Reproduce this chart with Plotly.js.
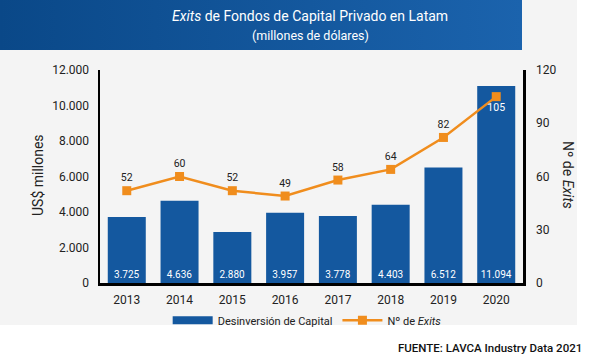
<!DOCTYPE html>
<html>
<head>
<meta charset="utf-8">
<script src="https://cdn.plot.ly/plotly-3.0.1.min.js"></script>
<style>
html,body{margin:0;padding:0;background:#fff;}
#chart{width:589px;height:358px;}
</style>
</head>
<body>
<div id="chart"></div>
<script>
const years = ['2013','2014','2015','2016','2017','2018','2019','2020'];
const desinversion = [3725, 4636, 2880, 3957, 3778, 4403, 6512, 11094];
const numExits = [52, 60, 52, 49, 58, 64, 82, 105];
const leftTicks = [0, 2000, 4000, 6000, 8000, 10000, 12000];
const rightTicks = [0, 30, 60, 90, 120];

const BLUE = '#14589f';
const ORANGE = '#f08d1d';

const bannerSvg = '<svg xmlns="http://www.w3.org/2000/svg" width="522" height="50" preserveAspectRatio="none">' +
  '<defs><linearGradient id="g" x1="0" x2="1" y1="0" y2="0">' +
  '<stop offset="0" stop-color="#0a4888"/><stop offset="1" stop-color="#1b63ad"/></linearGradient></defs>' +
  '<rect width="522" height="50" fill="url(#g)"/></svg>';
const bannerUri = 'data:image/svg+xml;base64,' + btoa(bannerSvg);

const lastIdx = numExits.length - 1;
const lineTextPos = numExits.map((v, i) => i === lastIdx ? 'bottom center' : 'top center');
const lineTextCol = numExits.map((v, i) => i === lastIdx ? '#ffffff' : '#222222');

const traces = [
  {
    type: 'bar', x: years, y: desinversion, name: 'Desinversión de Capital',
    marker: {color: BLUE}, showlegend: false, legendgroup: 'bar',
    texttemplate: '%{y:,}', textposition: 'inside', insidetextanchor: 'start', textangle: 0,
    textfont: {color: '#ffffff', size: 10, family: 'Roboto'},
    hoverinfo: 'x+y'
  },
  {
    type: 'scatter', mode: 'lines', x: [null], y: [null], name: 'Desinversión de Capital',
    line: {color: BLUE, width: 8}, legendgroup: 'bar', showlegend: true, hoverinfo: 'skip'
  },
  {
    type: 'scatter', mode: 'lines+markers+text', x: years, y: numExits, yaxis: 'y2',
    name: 'Nº de <i>Exits</i>',
    line: {color: ORANGE, width: 2.5},
    marker: {symbol: 'square', size: 9, color: ORANGE},
    text: numExits.map(String), textposition: lineTextPos,
    textfont: {color: lineTextCol, size: 10.5, family: 'Roboto'}
  }
];

const layout = {
  width: 589, height: 358,
  paper_bgcolor: '#ffffff', plot_bgcolor: 'rgba(0,0,0,0)',
  separators: ',.',
  font: {family: 'Roboto, "Open Sans", sans-serif', color: '#222', size: 12},
  margin: {l: 100, r: 66, t: 70, b: 75, pad: 0},
  bargap: 0.28,
  showlegend: true,
  legend: {
    orientation: 'h', x: 0.16, xanchor: 'left', y: -0.175, yanchor: 'middle',
    bgcolor: 'rgba(0,0,0,0)', font: {size: 11, color: '#222'},
    itemwidth: 40, traceorder: 'normal'
  },
  xaxis: {
    type: 'category', showline: true, linecolor: '#000', linewidth: 2.5,
    showgrid: false, zeroline: false, ticks: '', tickfont: {size: 12, color: '#222'},
    ticklabelstandoff: 4
  },
  yaxis: {
    range: [0, 12000], tickvals: leftTicks, tickformat: ',', showgrid: false,
    zeroline: false, showline: true, linecolor: '#000', linewidth: 2.5, ticks: '',
    tickfont: {size: 12, color: '#222'}, ticklabelstandoff: 6
  },
  yaxis2: {
    overlaying: 'y', side: 'right', range: [0, 120], tickvals: rightTicks,
    showgrid: false, zeroline: false, showline: true, linecolor: '#000', linewidth: 2.5,
    ticks: '', tickfont: {size: 12, color: '#222'}, ticklabelstandoff: 8
  },
  shapes: [
    {type: 'rect', xref: 'paper', yref: 'paper', layer: 'below',
     x0: -100/423, x1: 477/423, y0: (295-337)/213, y1: 1 + 70/213,
     fillcolor: '#f4f4f4', line: {width: 0}}
  ],
  images: [
    {source: bannerUri, xref: 'paper', yref: 'paper', x: -100/423, y: 1 + 70/213,
     sizex: 522/423, sizey: 50/213, sizing: 'stretch', xanchor: 'left', yanchor: 'top', layer: 'above'}
  ],
  annotations: [
    {text: '<i>Exits</i> de Fondos de Capital Privado en Latam', xref: 'paper', yref: 'paper',
     x: (310-100)/423, y: (283-16)/213, showarrow: false, xanchor: 'center', yanchor: 'middle',
     font: {size: 14, color: '#ffffff'}},
    {text: '(millones de dólares)', xref: 'paper', yref: 'paper',
     x: (310-100)/423, y: (283-35)/213, showarrow: false, xanchor: 'center', yanchor: 'middle',
     font: {size: 12.5, color: '#ffffff'}},
    {text: 'US$ millones', xref: 'paper', yref: 'paper', textangle: -90,
     x: (38-100)/423, y: (283-175)/213, showarrow: false, xanchor: 'center', yanchor: 'middle',
     font: {size: 14, color: '#222'}},
    {text: 'Nº de <i>Exits</i>', xref: 'paper', yref: 'paper', textangle: 90,
     x: (568-100)/423, y: (283-175)/213, showarrow: false, xanchor: 'center', yanchor: 'middle',
     font: {size: 14, color: '#222'}},
    {text: 'FUENTE: LAVCA Industry Data 2021', xref: 'paper', yref: 'paper',
     x: (584-100)/423, y: (283-348)/213, showarrow: false, xanchor: 'right', yanchor: 'middle',
     font: {size: 11.5, color: '#111', weight: 500}}
  ]
};

Plotly.newPlot('chart', traces, layout, {displayModeBar: false, staticPlot: true});
</script>
</body>
</html>
